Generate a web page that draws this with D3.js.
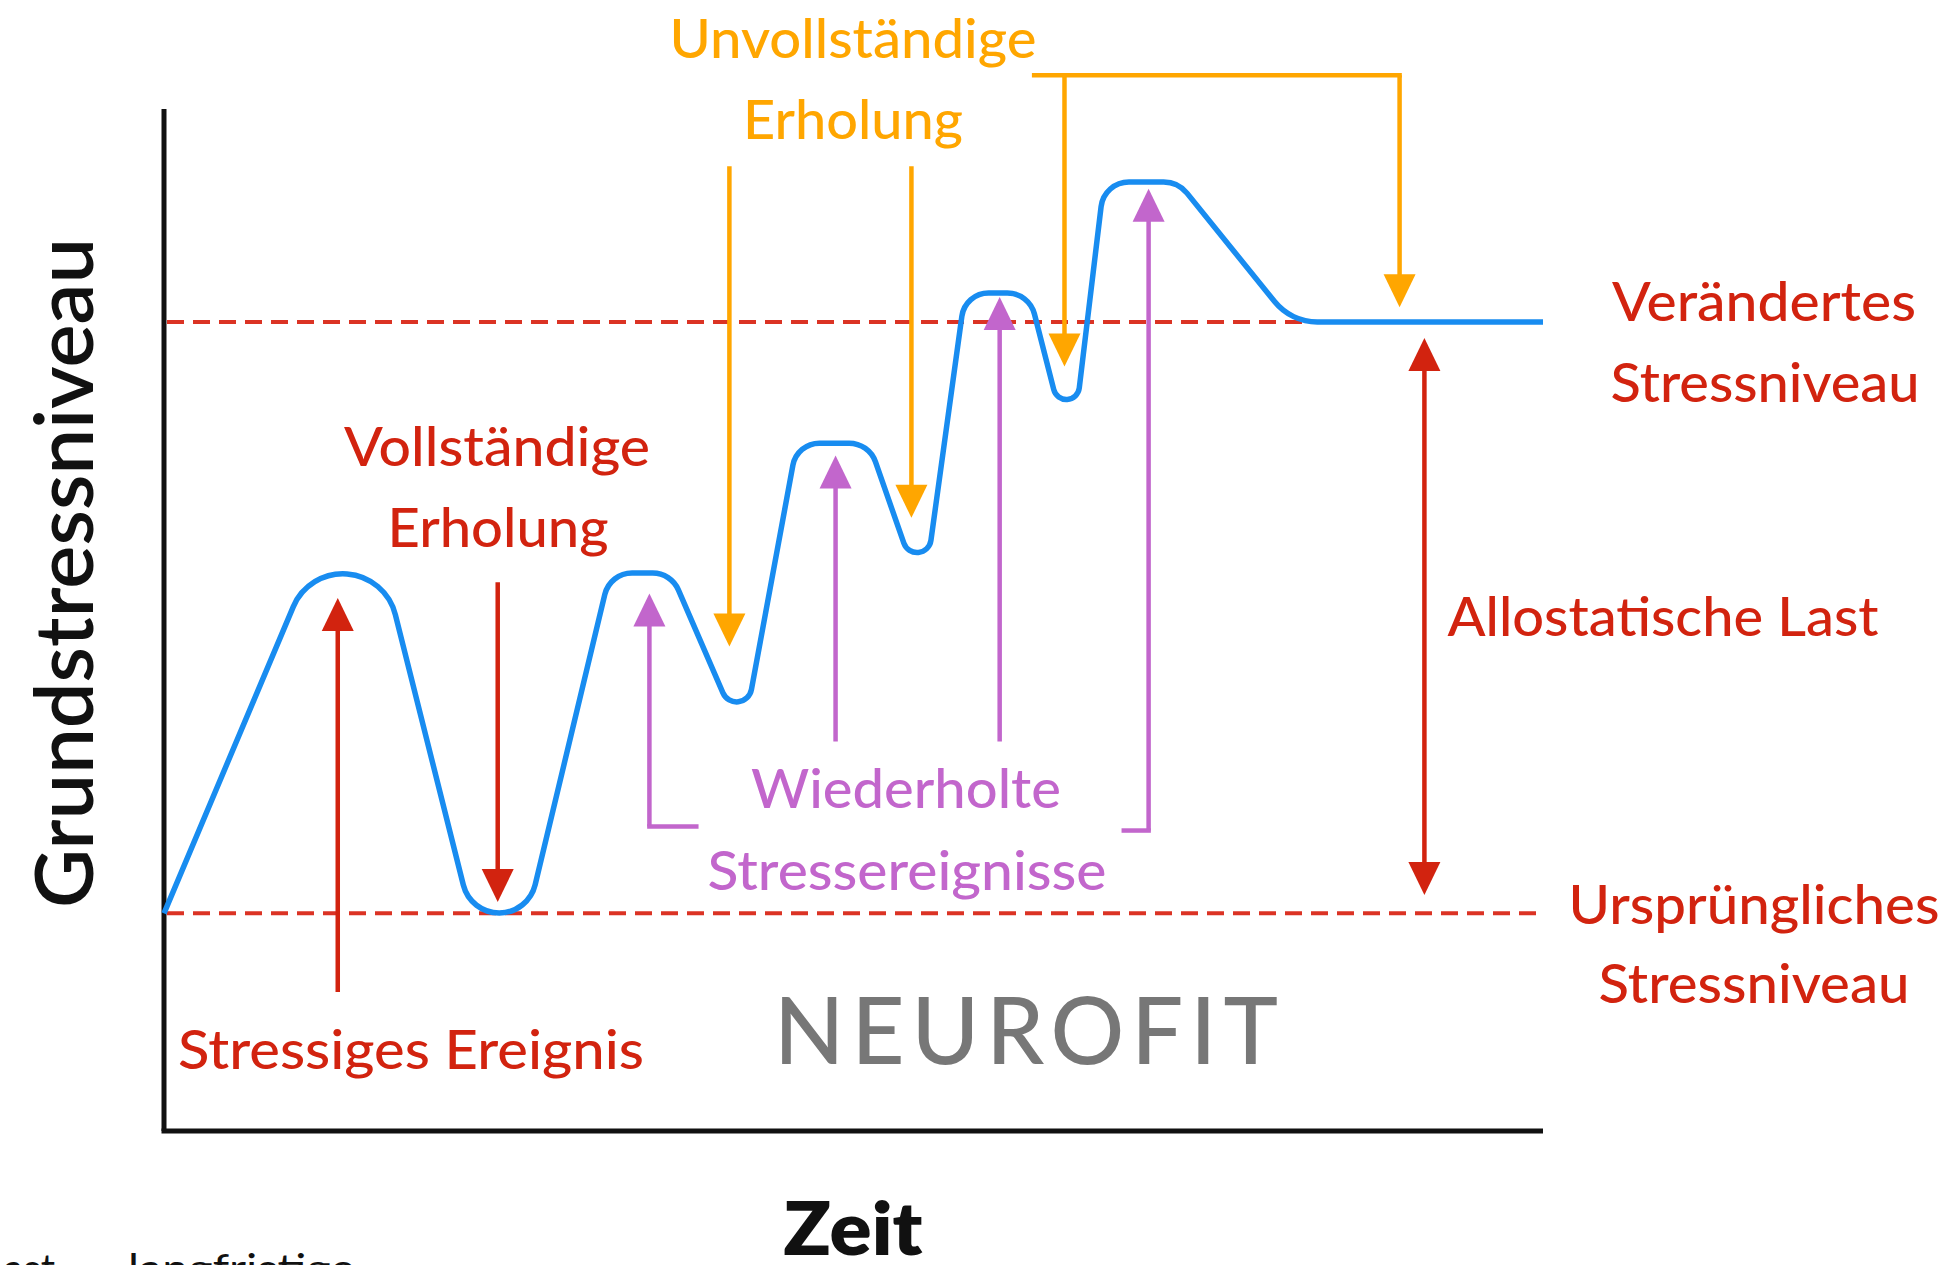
<!DOCTYPE html>
<html>
<head>
<meta charset="utf-8">
<script src="https://cdn.jsdelivr.net/npm/d3@7"></script>
<style>
  body { margin: 0; background: #fff; }
  svg { display: block; }
  text { font-family: Lato, "Open Sans", sans-serif; }
</style>
</head>
<body>
<div class="canvas"></div>
<script>
// Blue curve: corner points of the stress level line (time 0-100, level 0-100)
const curveTime  = [0, 13.92, 24.37, 32.34, 36.77, 41.95, 45.9, 51.12, 55.04, 58.09, 62.73, 65.77, 68.17, 73.53, 81.73, 100];
const curveLevel = [21.3, 65.85, 9.78, 54.6, 54.6, 38.45, 67.3, 67.3, 52.15, 82.0, 82.0, 65.95, 92.86, 92.86, 79.16, 79.16];

// dashed reference levels (original / changed)
const refLevels = [21.3, 79.16];

// arrows: [time, level at tail, level at tip]
const redArrows = [[12.6, 13.6, 52.15], [24.2, 53.7, 22.4]];
const loadArrow = [91.4, 23.1, 77.6]; // double headed
const orangeArrows = [[41.0, 94.4, 47.4], [54.2, 94.4, 60.0], [65.3, 103.3, 74.8], [89.6, 103.3, 80.6]];
const orangeBracket = [63.1, 89.6, 103.3]; // time from, time to, level
const purpleArrows = [[35.2, 29.8, 52.6], [48.7, 38.1, 66.1], [60.6, 38.1, 81.6], [71.4, 29.4, 92.2]];
const purpleFeet = [[35.2, 38.6, 29.8], [71.4, 69.6, 29.4]]; // time of arrow, time of foot end, level

// label texts
const redLabels = ['Vollständige', 'Erholung', 'Stressiges Ereignis', 'Verändertes', 'Stressniveau',
  'Allostatische Last', 'Ursprüngliches', 'Stressniveau'];
const orangeLabels = ['Unvollständige', 'Erholung'];
const purpleLabels = ['Wiederholte', 'Stressereignisse'];
const axisLabels = ['Grundstressniveau', 'Zeit'];

const colors = {
  blue: '#188cf0',
  red: '#d2230f',
  dash: '#db3324',
  orange: '#ffa600',
  purple: '#c266cc',
  grey: '#777777'
};

const svg = d3.select('.canvas')
  .append('svg')
  .attr('width', 1948)
  .attr('height', 1265)

// scales
const x = d3.scaleLinear().domain([0, 100]).range([164, 1543]);
const y = d3.scaleLinear().domain([0, 100]).range([1131, 109]);

// axes frame
svg.append('line')
  .attr('x1', x(0)).attr('y1', y(0))
  .attr('x2', x(0)).attr('y2', y(100))
  .attr('stroke', '#111').attr('stroke-width', 5)
svg.append('line')
  .attr('x1', x(0) - 2.5).attr('y1', y(0))
  .attr('x2', x(100)).attr('y2', y(0))
  .attr('stroke', '#111').attr('stroke-width', 5)

// dashed reference lines
svg.selectAll('.ref')
  .data(refLevels)
  .enter()
  .append('line')
  .attr('class', 'ref')
  .attr('x1', x(0) + 3).attr('x2', x(100))
  .attr('y1', d => y(d)).attr('y2', d => y(d))
  .attr('stroke', colors.dash)
  .attr('stroke-width', 4)
  .attr('stroke-dasharray', '17 9')

// blue curve with rounded corners
const cornerRadius = [0, 54, 37, 28, 28, 15, 27, 28, 14, 27, 28, 13, 28, 30, 55, 0];
const pts = curveTime.map((t, i) => [x(t), y(curveLevel[i])]);
const p = d3.path();
p.moveTo(pts[0][0], pts[0][1]);
for (let i = 1; i < pts.length - 1; i++) {
  p.arcTo(pts[i][0], pts[i][1], pts[i + 1][0], pts[i + 1][1], cornerRadius[i]);
}
p.lineTo(pts[pts.length - 1][0], pts[pts.length - 1][1]);

svg.append('path')
  .attr('d', p.toString())
  .attr('fill', 'none')
  .attr('stroke', colors.blue)
  .attr('stroke-width', 5.5)
  .attr('stroke-linejoin', 'round')

// arrows
const headLen = 33, headHalf = 16;
const arrows = svg.append('g')

const drawHead = (t, from, to, color) => {
  const cx = x(t), tip = y(to), dir = Math.sign(y(to) - y(from));
  arrows.append('path')
    .attr('d', `M${cx},${tip} L${cx - headHalf},${tip - dir * headLen} L${cx + headHalf},${tip - dir * headLen} Z`)
    .attr('fill', color)
}

const drawArrow = (d, color) => {
  const [t, from, to] = d;
  const dir = Math.sign(y(to) - y(from));
  arrows.append('line')
    .attr('x1', x(t)).attr('y1', y(from))
    .attr('x2', x(t)).attr('y2', y(to) - dir * (headLen - 2))
    .attr('stroke', color)
    .attr('stroke-width', 4.5)
  drawHead(t, from, to, color)
}

redArrows.forEach(d => drawArrow(d, colors.red))
orangeArrows.forEach(d => drawArrow(d, colors.orange))
purpleArrows.forEach(d => drawArrow(d, colors.purple))

// allostatic load: double arrow
arrows.append('line')
  .attr('x1', x(loadArrow[0])).attr('y1', y(loadArrow[1]) - headLen + 2)
  .attr('x2', x(loadArrow[0])).attr('y2', y(loadArrow[2]) + headLen - 2)
  .attr('stroke', colors.red).attr('stroke-width', 4.5)
drawHead(loadArrow[0], loadArrow[2], loadArrow[1], colors.red)
drawHead(loadArrow[0], loadArrow[1], loadArrow[2], colors.red)

// orange bracket on top
arrows.append('path')
  .attr('d', `M${x(orangeBracket[0])},${y(orangeBracket[2])} L${x(orangeBracket[1])},${y(orangeBracket[2])}`)
  .attr('stroke', colors.orange).attr('stroke-width', 4.5)
  .attr('stroke-linecap', 'square')

// purple bracket feet
purpleFeet.forEach(d => {
  arrows.append('path')
    .attr('d', `M${x(d[0])},${y(d[2])} L${x(d[1])},${y(d[2])}`)
    .attr('stroke', colors.purple).attr('stroke-width', 4.5)
    .attr('stroke-linecap', 'square')
})

// labels
const label = (txt, cx, by, len, color, size, weight) => {
  svg.append('text')
    .attr('x', cx)
    .attr('y', by)
    .attr('text-anchor', 'middle')
    .attr('fill', color)
    .attr('font-size', size)
    .attr('font-weight', weight || 500)
    .attr('textLength', len)
    .attr('lengthAdjust', 'spacingAndGlyphs')
    .text(txt)
}

const redPos = [[497, 466, 306], [498, 547, 221], [411, 1069, 466], [1764, 321, 304],
  [1765, 402, 309], [1663, 636, 431], [1754, 924, 371], [1754, 1003, 311]];
redLabels.forEach((txt, i) => label(txt, ...redPos[i], colors.red, 54))

const orangePos = [[853, 58, 367], [853, 139, 220]];
orangeLabels.forEach((txt, i) => label(txt, ...orangePos[i], colors.orange, 54))

const purplePos = [[906, 808, 310], [907, 890, 399]];
purpleLabels.forEach((txt, i) => label(txt, ...purplePos[i], colors.purple, 54))

// axis titles
svg.append('text')
  .attr('transform', 'translate(93, 573) rotate(-90)')
  .attr('text-anchor', 'middle')
  .attr('fill', '#111')
  .attr('font-size', 80)
  .attr('font-weight', 600)
  .attr('textLength', 670)
  .attr('lengthAdjust', 'spacingAndGlyphs')
  .text(axisLabels[0])

label(axisLabels[1], 853, 1255, 139, '#111', 74, 800)

// watermark
svg.append('text')
  .attr('x', 1026)
  .attr('y', 1064)
  .attr('text-anchor', 'middle')
  .attr('fill', colors.grey)
  .attr('font-size', 92)
  .attr('font-weight', 500)
  .attr('textLength', 504)
  .attr('lengthAdjust', 'spacing')
  .text('NEUROFIT')

// cut-off text at the bottom edge
svg.append('text')
  .attr('x', 55).attr('y', 1283)
  .attr('text-anchor', 'end')
  .attr('font-family', '"Open Sans", sans-serif')
  .attr('font-size', 40)
  .attr('fill', '#111')
  .text('ast')
svg.append('text')
  .attr('x', 128).attr('y', 1283)
  .attr('font-family', '"Open Sans", sans-serif')
  .attr('font-size', 40)
  .attr('fill', '#111')
  .attr('textLength', 227)
  .attr('lengthAdjust', 'spacingAndGlyphs')
  .text('langfristige')
</script>
</body>
</html>
